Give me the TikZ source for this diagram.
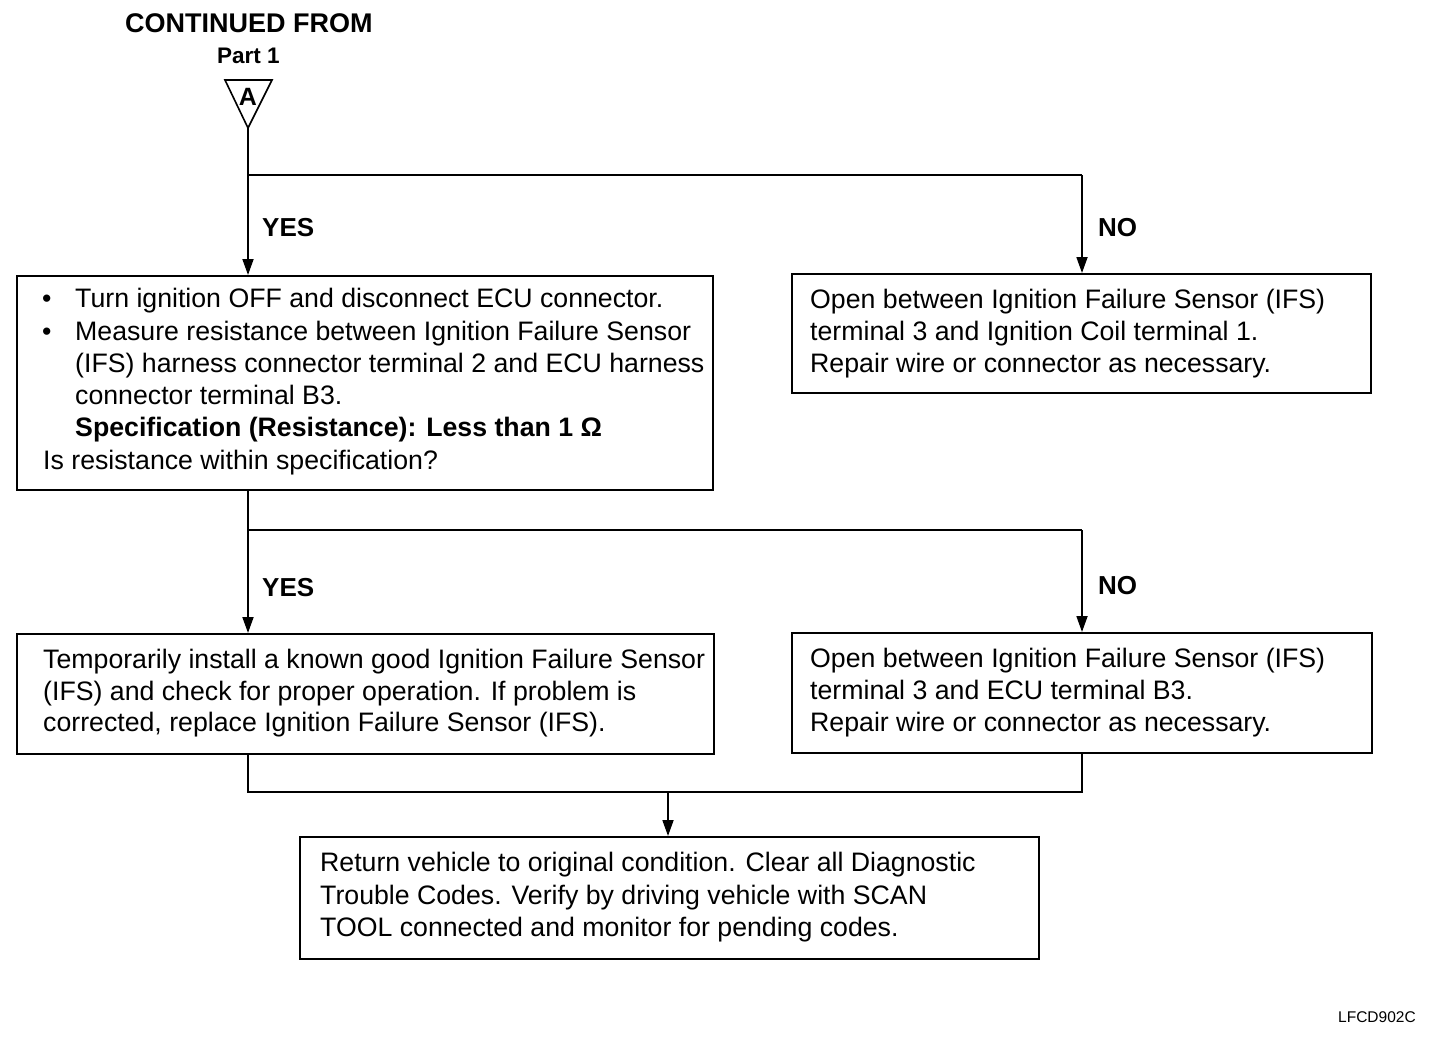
\documentclass[tikz,border=0pt]{standalone}
\usepackage{fontspec}
\setmainfont{Liberation Sans}
\usetikzlibrary{arrows.meta,calc}
\tikzset{
  box/.style={draw, line width=1.6pt, rectangle, anchor=north west, inner sep=0pt},
  txt/.style={inner sep=0pt, anchor=base west, font=\fontsize{26.7}{32}\selectfont},
  btxt/.style={inner sep=0pt, anchor=base west, font=\fontsize{26.7}{32}\selectfont\bfseries},
  lab/.style={inner sep=0pt, anchor=base west, font=\fontsize{26}{32}\selectfont\bfseries},
  wire/.style={line width=1.8pt},
  arr/.style={line width=1.8pt, -{Triangle[length=16pt,width=11pt]}}
}
\begin{document}
\begin{tikzpicture}[x=1pt,y=-1pt]
\useasboundingbox (0,0) rectangle (1456,1042);

% header
\node[btxt, font=\fontsize{27}{32}\selectfont\bfseries] (cont) at (125,32) {CONTINUED FROM};
\node[btxt, font=\fontsize{22.5}{28}\selectfont\bfseries] (part) at (217,63) {Part 1};
\draw[line width=1.6pt] (225,80) -- (272,80) -- (248,128) -- cycle;
\coordinate (apex) at (248,128);
\node[inner sep=0pt, anchor=base, font=\fontsize{25}{28}\selectfont\bfseries] (tA) at (248,105) {A};

% boxes
\node[box, minimum width=696pt, minimum height=214pt] (b1) at (16,275) {};
\node[box, minimum width=579pt, minimum height=119pt] (b2) at (791,273) {};
\node[box, minimum width=697pt, minimum height=120pt] (b3) at (16,633) {};
\node[box, minimum width=580pt, minimum height=120pt] (b4) at (791,632) {};
\node[box, minimum width=739pt, minimum height=122pt] (b5) at (299,836) {};

% box 1 text
\node[txt] (b1u1) at (42,307) {\textbullet};
\node[txt] (b1l1) at (75,307) {Turn ignition OFF and disconnect ECU connector.};
\node[txt] (b1u2) at (42,340) {\textbullet};
\node[txt] (b1l2) at (75,340) {Measure resistance between Ignition Failure Sensor};
\node[txt] (b1l3) at (75,372) {(IFS) harness connector terminal 2 and ECU harness};
\node[txt] (b1l4) at (75,404) {connector terminal B3.};
\node[btxt] (b1l5) at (75,436) {Specification (Resistance): Less than 1 Ω};
\node[txt] (b1l6) at (43,469) {Is resistance within specification?};

% box 2 text
\node[txt] (b2l1) at (810,308) {Open between Ignition Failure Sensor (IFS)};
\node[txt] (b2l2) at (810,340) {terminal 3 and Ignition Coil terminal 1.};
\node[txt] (b2l3) at (810,372) {Repair wire or connector as necessary.};

% box 3 text
\node[txt] (b3l1) at (43,668) {Temporarily install a known good Ignition Failure Sensor};
\node[txt] (b3l2) at (43,700) {(IFS) and check for proper operation. If problem is};
\node[txt] (b3l3) at (43,731) {corrected, replace Ignition Failure Sensor (IFS).};

% box 4 text
\node[txt] (b4l1) at (810,667) {Open between Ignition Failure Sensor (IFS)};
\node[txt] (b4l2) at (810,699) {terminal 3 and ECU terminal B3.};
\node[txt] (b4l3) at (810,731) {Repair wire or connector as necessary.};

% box 5 text
\node[txt] (b5l1) at (320,871) {Return vehicle to original condition. Clear all Diagnostic};
\node[txt] (b5l2) at (320,904) {Trouble Codes. Verify by driving vehicle with SCAN};
\node[txt] (b5l3) at (320,936) {TOOL connected and monitor for pending codes.};

% labels
\node[lab] (yes1) at (262,236) {YES};
\node[lab] (no1) at (1098,236) {NO};
\node[lab] (yes2) at (262,596) {YES};
\node[lab] (no2) at (1098,594) {NO};
\node[inner sep=0pt, anchor=base west, font=\fontsize{15.5}{18}\selectfont] (code) at (1338,1022) {LFCD902C};

% connectors
\coordinate (j1) at (248,175);
\coordinate (k1) at (1082,175);
\draw[wire] (apex) -- (j1) -- (k1);
\draw[arr] (j1) -- (j1 |- b1.north);
\draw[arr] (k1) -- (k1 |- b2.north);

\coordinate (j2) at (248,530);
\coordinate (k2) at (1082,530);
\draw[wire] (j2 |- b1.south) -- (j2) -- (k2);
\draw[arr] (j2) -- (j2 |- b3.north);
\draw[arr] (k2) -- (k2 |- b4.north);

\coordinate (j3) at (248,792);
\coordinate (k3) at (1082,792);
\coordinate (m3) at (668,792);
\draw[wire] (j3 |- b3.south) -- (j3) -- (k3) -- (k3 |- b4.south);
\draw[arr] (m3) -- (m3 |- b5.north);
\end{tikzpicture}
\end{document}
